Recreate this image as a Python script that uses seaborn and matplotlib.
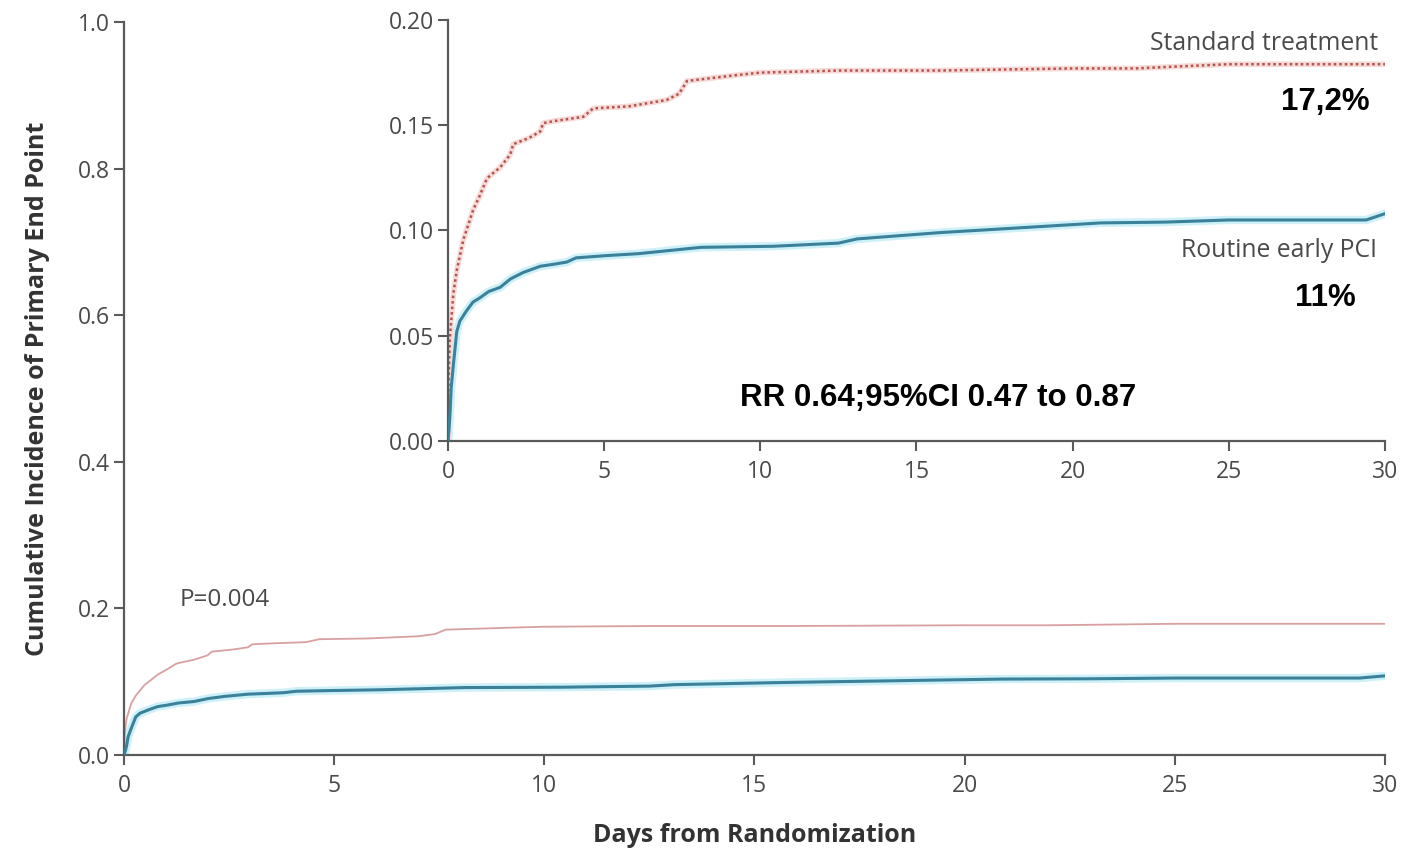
import matplotlib
matplotlib.use("Agg")
import matplotlib.pyplot as plt
import seaborn as sns
import pandas as pd

# ---- data ----
days_standard = [0, 0.02, 0.06, 0.17, 0.28, 0.38, 0.49, 0.7, 0.81, 1.0, 1.24, 1.34, 1.67,
                 1.99, 2.09, 2.6, 2.95, 3.05, 3.4, 4.33, 4.65, 5.8, 7.0, 7.4, 7.65, 8.2,
                 9.35, 10, 12.55, 15.75, 20, 22, 23.5, 25, 30]
inc_standard = [0, 0.03, 0.049, 0.070, 0.081, 0.088, 0.0956, 0.105, 0.110, 0.116, 0.1245,
                0.126, 0.130, 0.136, 0.141, 0.144, 0.147, 0.151, 0.152, 0.154, 0.158, 0.159,
                0.162, 0.165, 0.171, 0.172, 0.174, 0.175, 0.176, 0.176, 0.177, 0.177, 0.178,
                0.179, 0.179]

days_pci = [0, 0.03, 0.06, 0.1, 0.17, 0.28, 0.38, 0.6, 0.8, 1.02, 1.3, 1.67, 2.0, 2.4,
            2.95, 3.4, 3.8, 4.1, 5.0, 6.1, 8.1, 10.4, 12.5, 13.1, 15.75, 18, 20.9, 23, 25,
            29.4, 30]
inc_pci = [0, 0.005, 0.012, 0.025, 0.036, 0.052, 0.057, 0.062, 0.066, 0.068, 0.071, 0.073,
           0.077, 0.080, 0.083, 0.084, 0.085, 0.087, 0.088, 0.089, 0.092, 0.0925, 0.094,
           0.096, 0.099, 0.101, 0.1036, 0.104, 0.105, 0.105, 0.108]

x_ticks = [0, 5, 10, 15, 20, 25, 30]
main_y_ticks = [0.0, 0.2, 0.4, 0.6, 0.8, 1.0]
main_y_labels = ["0.0", "0.2", "0.4", "0.6", "0.8", "1.0"]
inset_y_ticks = [0.00, 0.05, 0.10, 0.15, 0.20]
inset_y_labels = ["0.00", "0.05", "0.10", "0.15", "0.20"]

label_standard = "Standard treatment"
label_pci = "Routine early PCI"
pct_standard = "17,2%"
pct_pci = "11%"
rr_text = "RR 0.64;95%CI 0.47 to 0.87"
p_text = "P=0.004"

df_std = pd.DataFrame({"day": days_standard, "inc": inc_standard})
df_pci = pd.DataFrame({"day": days_pci, "inc": inc_pci})

sns.set_style("ticks")
plt.rcParams['font.family'] = ['Open Sans', 'DejaVu Sans']

SPINE = "#5a5a5a"
TXT = "#4a4a4a"
RED_MAIN = "#d9a0a0"
RED_INSET = "#b5524c"
BLUE = "#3a8199"
HALO = "#cdf0f9"

fig = plt.figure(figsize=(14.25, 8.51), dpi=100)
ax = fig.add_axes([0.0870, 0.1128, 0.8849, 0.8613])
ins = fig.add_axes([0.3144, 0.4818, 0.6575, 0.4947])


def style(a):
    for s in ["top", "right"]:
        a.spines[s].set_visible(False)
    for s in ["left", "bottom"]:
        a.spines[s].set_color(SPINE)
        a.spines[s].set_linewidth(1.6)
    a.tick_params(direction="out", length=7, width=1.5, color=SPINE,
                  labelcolor=TXT, labelsize=16.5, pad=3)
    a.tick_params(axis="x", pad=7)
    a.set_facecolor("none")


# main axes
sns.lineplot(data=df_pci, x="day", y="inc", ax=ax, color=HALO, lw=6,
             estimator=None, sort=False, zorder=1)
sns.lineplot(data=df_pci, x="day", y="inc", ax=ax, color=BLUE, lw=2.2,
             estimator=None, sort=False, zorder=3)
sns.lineplot(data=df_std, x="day", y="inc", ax=ax, color=RED_MAIN, lw=1.3,
             estimator=None, sort=False, zorder=2)
ax.set_xlim(0, 30)
ax.set_ylim(0, 1.0)
ax.set_xticks(x_ticks)
ax.set_yticks(main_y_ticks)
ax.set_yticklabels(main_y_labels)
style(ax)
ax.set_xlabel("Days from Randomization", fontsize=18, fontweight="bold",
              color="#333333", labelpad=18)
ax.set_ylabel("Cumulative Incidence of Primary End Point", fontsize=18,
              fontweight="bold", color="#333333", labelpad=20)
ax.text(1.33, 0.211, p_text, fontsize=17.5, color=TXT, va="center", ha="left")

# inset
sns.lineplot(data=df_pci, x="day", y="inc", ax=ins, color=HALO, lw=6,
             estimator=None, sort=False, zorder=1)
sns.lineplot(data=df_pci, x="day", y="inc", ax=ins, color=BLUE, lw=2.2,
             estimator=None, sort=False, zorder=3)
sns.lineplot(data=df_std, x="day", y="inc", ax=ins, color="#f5dad7", lw=4,
             estimator=None, sort=False, zorder=1)
sns.lineplot(data=df_std, x="day", y="inc", ax=ins, color=RED_INSET, lw=1.8,
             linestyle=(0, (1, 1.2)), estimator=None, sort=False, zorder=2)
ins.set_xlim(0, 30)
ins.set_ylim(0, 0.20)
ins.set_xticks(x_ticks)
ins.set_yticks(inset_y_ticks)
ins.set_yticklabels(inset_y_labels)
style(ins)
ins.set_xlabel("")
ins.set_ylabel("")

ins.text(29.78, 0.189, label_standard, fontsize=17.8, color=TXT, ha="right", va="center")
ins.text(29.75, 0.0907, label_pci, fontsize=17.8, color=TXT, ha="right", va="center")
ins.text(28.1, 0.161, pct_standard, fontsize=22.5, fontweight="bold", color="black",
         ha="center", va="center", family="Liberation Sans")
ins.text(28.08, 0.0679, pct_pci, fontsize=22.5, fontweight="bold", color="black",
         ha="center", va="center", family="Liberation Sans")
ins.text(15.69, 0.0204, rr_text, fontsize=22.5, fontweight="bold", color="black",
         ha="center", va="center", family="Liberation Sans")

fig.savefig("out.png", dpi=100, facecolor="white")
